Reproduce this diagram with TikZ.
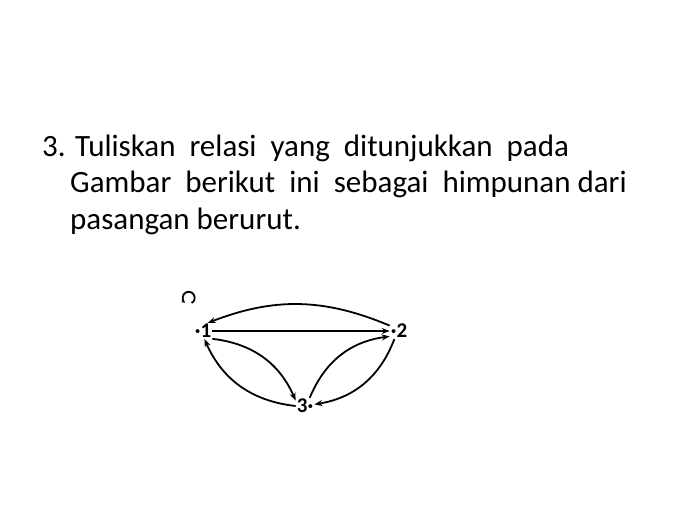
\documentclass[tikz,border=0pt]{standalone}
\usepackage{fontspec}
\setmainfont{Carlito}
\usepackage{tikz}
\usetikzlibrary{calc, positioning, arrows.meta}
\tikzstyle{every edge}=[draw, line width=1.8pt, -{Stealth[length=8pt,width=6pt]}]

\begin{document}
\begin{tikzpicture}[x=1pt, y=1pt]
		\useasboundingbox (0,0) rectangle (700,-525);
		\fill[white] (0,0) rectangle (700,-525);

		\node[anchor=base west, inner sep=0pt, font=\fontsize{31}{36}\selectfont] (line1) at (42,-156) {3. Tuliskan\ \ relasi\ \ yang\ \ ditunjukkan\ \ pada};
		\node[anchor=base west, inner sep=0pt, font=\fontsize{31}{36}\selectfont] (line2) at (70,-192) {Gambar\ \ berikut\ \ ini\ \ sebagai\ \ himpunan dari};
		\node[anchor=base west, inner sep=0pt, font=\fontsize{31}{36}\selectfont] (line3) at (70,-229) {pasangan berurut.};

		\foreach \n / \x / \y / \t in {1/203/331/{·1}, 2/399/331/{·2}, 3/305/406/{3·}}
		\node[inner sep=1pt, font=\fontsize{21}{21}\selectfont\bfseries] (v\n) at (\x, -\y) {\t};

		\draw[line width=1.2pt, -{Stealth[length=8pt,width=6pt]}] (v1.east) -- (v2.west);
		\path (v2.150) edge[bend right=22] (v1.60);
		\path (v1.-40) edge[bend left=30] (v3.150);
		\path (v3.180) edge[bend left=30] (v1.-80);
		\path (v3.60) edge[bend left=30] (v2.-150);
		\path (v2.-120) edge[bend left=30] (v3.10);

		\coordinate (lp) at ([shift={(-2,20)}]v1.north west);
		\draw[line width=1.8pt, -{Stealth[length=4pt,width=4pt]}] (lp) arc[start angle=-60, end angle=235, radius=6];
	\end{tikzpicture}
\end{document}
